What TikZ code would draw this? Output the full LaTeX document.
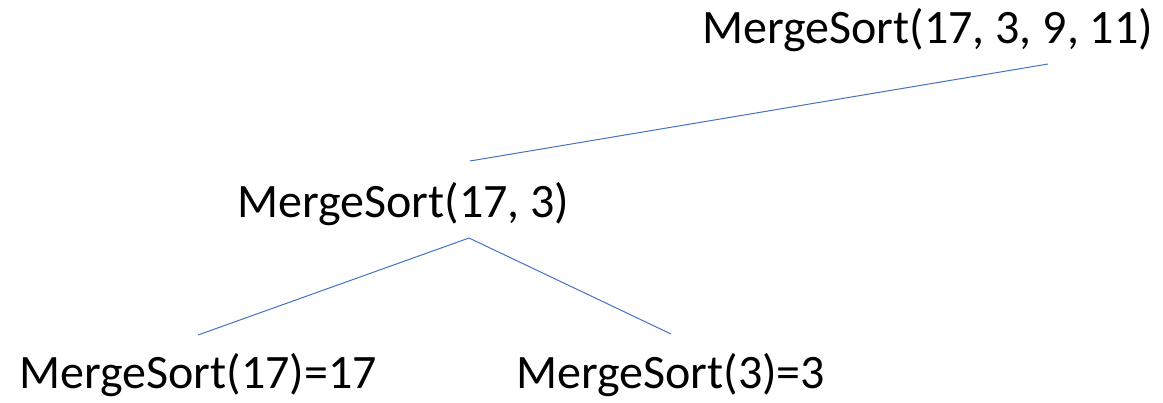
\documentclass[tikz,border=0pt]{standalone}
\usepackage{fontspec}
\setmainfont{Carlito}
\definecolor{linkblue}{HTML}{4472C4}
\begin{document}
\begin{tikzpicture}[x=1pt,y=-1pt,
  lbl/.style={anchor=base west,inner sep=0pt,font=\fontsize{48}{52}\selectfont},
  link/.style={draw=linkblue,line width=1pt}]
\useasboundingbox (0,0) rectangle (1163,402);
\node[lbl] (root) at (702,43) {MergeSort(17, 3, 9, 11)};
\node[lbl] (mid) at (237,217) {MergeSort(17, 3)};
\node[lbl] (left) at (19,388) {MergeSort(17)=17};
\node[lbl] (right) at (516,388) {MergeSort(3)=3};
\coordinate (rootb) at (1048,64);
\coordinate (midt) at (470,161);
\coordinate (midb) at (469,238);
\coordinate (leftt) at (198,335);
\coordinate (rightt) at (671,334);
\draw[link] (rootb) -- (midt);
\draw[link] (midb) -- (leftt);
\draw[link] (midb) -- (rightt);
\end{tikzpicture}
\end{document}
